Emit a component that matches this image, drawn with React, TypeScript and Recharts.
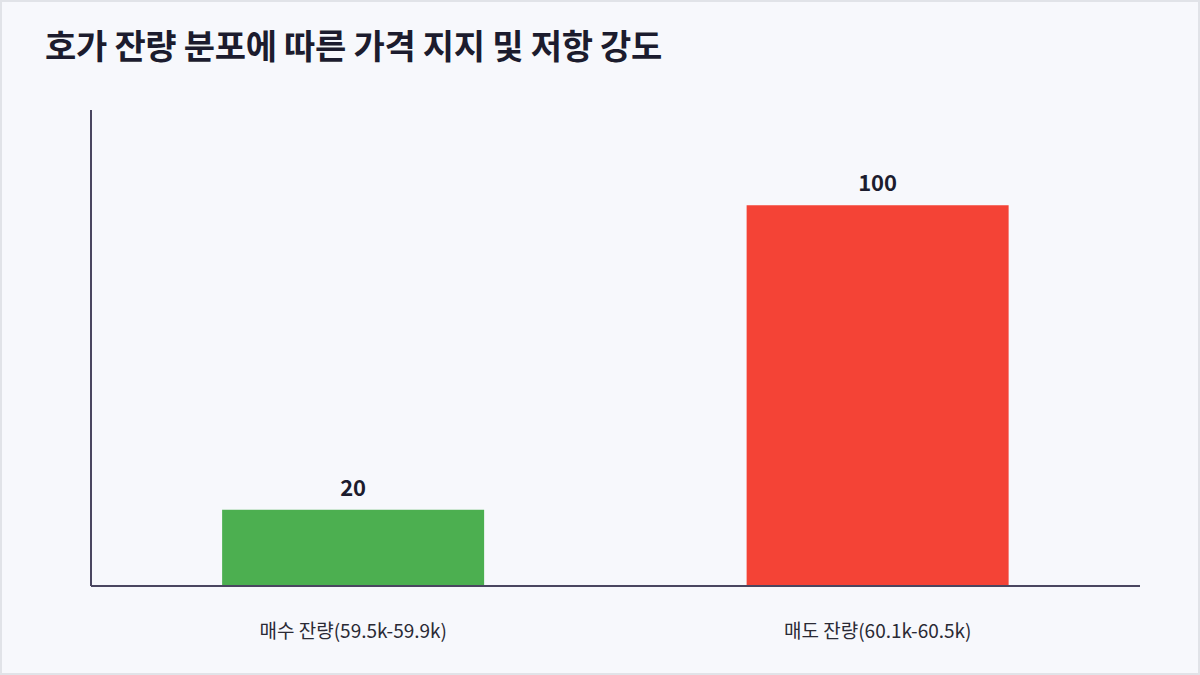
import { BarChart, Bar, XAxis, YAxis, Cell, LabelList } from "recharts";

const categories = ["매수 잔량(59.5k-59.9k)", "매도 잔량(60.1k-60.5k)"];
const volumes = [20, 100];
const barColors = ["#4caf50", "#f44336"];

const chartData = categories.map((name, i) => ({ name, value: volumes[i] }));

const FONT = '"Noto Sans CJK KR", "Noto Sans", sans-serif';

export default function App() {
  return (
    <div
      style={{
        position: "relative",
        width: 1200,
        height: 675,
        background: "#f7f8fc",
        boxSizing: "border-box",
        border: "2px solid #e1e3e8",
        fontFamily: FONT,
      }}
    >
      <style>{"body{margin:0}"}</style>
      <div
        style={{
          position: "absolute",
          left: 43,
          top: 18,
          fontSize: 34,
          fontWeight: 700,
          color: "#1c1c2e",
          letterSpacing: -0.3,
        }}
      >
        호가 잔량 분포에 따른 가격 지지 및 저항 강도
      </div>
      <div style={{ position: "absolute", left: -2, top: -2 }}>
        <BarChart
          width={1200}
          height={675}
          data={chartData}
          barCategoryGap="25%"
          margin={{ top: 110, right: 60, left: 90, bottom: 29 }}
        >
          <XAxis
            dataKey="name"
            height={60}
            tickLine={false}
            axisLine={{ stroke: "#4a4660", strokeWidth: 2 }}
            tickMargin={33}
            tick={{ fill: "#2a2a35", fontSize: 19, fontFamily: FONT }}
          />
          <YAxis
            width={1}
            domain={[0, 125]}
            tick={false}
            tickLine={false}
            axisLine={{ stroke: "#4a4660", strokeWidth: 2 }}
          />
          <Bar dataKey="value" isAnimationActive={false}>
            {chartData.map((d, i) => (
              <Cell key={d.name} fill={barColors[i]} />
            ))}
            <LabelList
              dataKey="value"
              position="top"
              offset={14}
              fill="#1c1c2e"
              fontSize={22}
              fontWeight={700}
              fontFamily={FONT}
            />
          </Bar>
        </BarChart>
      </div>
    </div>
  );
}
